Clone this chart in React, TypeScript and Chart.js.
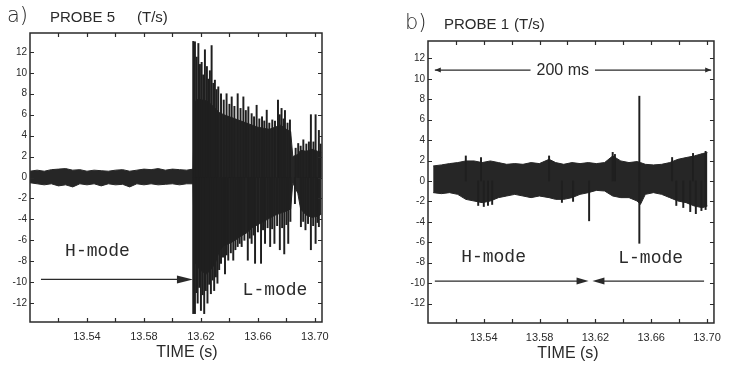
import React, { useEffect, useRef } from 'react';
import { Chart, registerables } from 'chart.js';

Chart.register(...registerables);

// ---------- shared axes ----------
const X_TICKS = [13.52, 13.54, 13.56, 13.58, 13.6, 13.62, 13.64, 13.66, 13.68, 13.7];
const X_LABELS = [13.54, 13.58, 13.62, 13.66, 13.7];
const Y_TICKS = [-12, -10, -8, -6, -4, -2, 0, 2, 4, 6, 8, 10, 12];

// ---------- panel a : PROBE 5 ----------
const A_CORE_T = [
  13.5, 13.505, 13.51, 13.515, 13.52, 13.525, 13.53, 13.535, 13.54, 13.545, 13.55, 13.555,
  13.56, 13.565, 13.57, 13.575, 13.58, 13.585, 13.59, 13.595, 13.6, 13.605, 13.61, 13.6145,
  13.6155, 13.618, 13.621, 13.624, 13.627, 13.63, 13.633, 13.636, 13.64, 13.644, 13.648, 13.652,
  13.656, 13.66, 13.664, 13.668, 13.672, 13.676, 13.68, 13.683,
  13.6845, 13.688, 13.69, 13.694, 13.698, 13.702, 13.7045,
];
const A_CORE_HI = [
  0.6, 0.7, 0.6, 0.75, 0.8, 0.85, 0.7, 0.75, 0.6, 0.7, 0.65, 0.6,
  0.7, 0.75, 0.6, 0.7, 0.8, 0.75, 0.85, 0.7, 0.8, 0.75, 0.7, 0.8,
  7.2, 7.5, 7.4, 7.3, 7.0, 6.6, 6.2, 6.0, 5.8, 5.6, 5.4, 5.2,
  5.0, 4.8, 4.7, 4.6, 4.8, 5.0, 4.6, 4.4,
  2.0, 2.2, 2.6, 2.5, 2.7, 2.5, 2.4,
];
const A_CORE_LO = [
  -0.5, -0.6, -0.7, -0.6, -0.8, -0.7, -0.9, -0.6, -0.7, -0.6, -0.8, -0.6,
  -0.7, -0.65, -0.9, -0.6, -0.7, -0.6, -0.7, -0.65, -0.6, -0.7, -0.6, -0.6,
  -8.0, -8.6, -9.0, -9.2, -8.8, -8.2, -7.0, -6.5, -6.3, -6.0, -5.6, -5.3,
  -4.8, -4.5, -4.2, -3.9, -3.6, -3.4, -3.2, -3.0,
  -0.5, -1.5, -3.0, -3.6, -3.8, -3.7, -3.5,
];
const A_UP_T = [
  13.6146, 13.6158, 13.617, 13.6182, 13.6193, 13.6205, 13.6216, 13.6228, 13.6242, 13.6252,
  13.6263, 13.6275, 13.6287, 13.6298, 13.631, 13.6322, 13.6341, 13.636, 13.638, 13.64,
  13.6416, 13.6435, 13.6458, 13.6478, 13.6498, 13.6515, 13.6533, 13.6556, 13.6573, 13.6591,
  13.661, 13.6629, 13.6645, 13.6662, 13.668, 13.6701, 13.672, 13.6741, 13.6753, 13.6766,
  13.678, 13.679, 13.6808, 13.6825, 13.6865, 13.6883, 13.69, 13.6919, 13.694, 13.6958,
  13.6972, 13.699, 13.7005, 13.7028, 13.704,
];
const A_UP_V = [
  13.0, 12.96, 11.5, 12.8, 10.8, 11.0, 9.8, 12.2, 10.6, 9.4,
  10.2, 12.6, 9.0, 9.3, 8.4, 8.66, 8.0, 7.4, 8.0, 7.0,
  7.7, 6.8, 8.0, 6.6, 7.7, 6.4, 6.75, 6.1, 5.8, 6.9,
  5.6, 5.8, 5.4, 6.43, 5.2, 5.5, 5.4, 7.4, 6.0, 6.6,
  5.6, 6.4, 5.2, 5.5, 2.8, 3.25, 3.0, 3.6, 3.2, 3.4,
  6.0, 3.4, 6.0, 4.5, 3.2,
];
const A_DN_T = [
  13.6146, 13.6158, 13.6168, 13.6177, 13.6188, 13.62, 13.6212, 13.6223, 13.6234, 13.6246,
  13.6258, 13.627, 13.6282, 13.6293, 13.6305, 13.6316, 13.6328, 13.6341, 13.6355, 13.6369,
  13.638, 13.6392, 13.641, 13.6427, 13.6442, 13.6458, 13.6472, 13.6486, 13.6505, 13.6529,
  13.6543, 13.6556, 13.657, 13.658, 13.66, 13.6622, 13.6636, 13.665, 13.6668, 13.6686,
  13.67, 13.6716, 13.6735, 13.6754, 13.677, 13.6785, 13.68, 13.6813, 13.6828, 13.686,
  13.6902, 13.6918, 13.6934, 13.6952, 13.6972, 13.6988, 13.7005, 13.7018, 13.7028,
];
const A_DN_V = [
  -13.0, -13.0, -11.0, -12.0, -10.5, -12.7, -11.2, -13.0, -10.8, -12.0,
  -10.2, -11.1, -9.8, -10.8, -9.5, -10.1, -8.8, -8.2, -7.6, -9.2,
  -7.4, -7.9, -7.2, -7.9, -6.9, -6.6, -6.3, -6.6, -6.0, -7.9,
  -5.8, -6.3, -5.5, -8.2, -5.2, -8.2, -5.0, -6.3, -4.8, -6.6,
  -4.9, -6.3, -4.6, -6.9, -4.8, -7.3, -4.5, -6.3, -4.2, -2.5,
  -4.7, -4.2, -5.0, -4.4, -6.9, -4.6, -6.3, -4.3, -4.7,
];

// ---------- panel b : PROBE 1 ----------
const B_CORE_T = [
  13.5037, 13.5096, 13.5154, 13.5213, 13.5271, 13.533, 13.5388, 13.5447, 13.5505, 13.5564,
  13.5622, 13.5681, 13.5739, 13.5798, 13.5868, 13.5915, 13.5973, 13.6032, 13.609, 13.6149,
  13.6207, 13.6266, 13.6324, 13.6382, 13.6441, 13.6499, 13.6523, 13.6558, 13.6616, 13.6675,
  13.6733, 13.6792, 13.685, 13.6909, 13.6967, 13.7003,
];
const B_CORE_HI = [
  1.47, 1.57, 1.7, 1.8, 1.96, 1.96, 1.8, 1.96, 1.8, 1.63,
  1.7, 1.63, 1.8, 1.7, 2.12, 1.8, 1.63, 1.8, 1.7, 1.8,
  1.7, 1.8, 2.45, 1.96, 1.8, 1.9, 1.8, 1.63, 1.57, 1.63,
  1.8, 2.12, 2.29, 2.45, 2.68, 2.78,
];
const B_CORE_LO = [
  -1.14, -1.24, -1.14, -1.31, -1.8, -1.96, -2.12, -1.96, -1.63, -1.47,
  -1.31, -1.47, -1.63, -1.47, -1.63, -1.8, -1.8, -1.63, -1.31, -1.14,
  -0.92, -0.98, -1.47, -1.63, -1.63, -1.96, -2.29, -1.31, -1.14, -1.31,
  -1.63, -1.96, -2.12, -2.45, -2.61, -2.45,
];
const B_UP_T = [13.5271, 13.538, 13.5868, 13.6324, 13.634, 13.6515, 13.675, 13.69, 13.699];
const B_UP_V = [2.45, 2.3, 2.45, 2.8, 2.6, 8.3, 2.3, 2.7, 2.9];
const B_DN_T = [13.536, 13.54, 13.543, 13.546, 13.596, 13.604, 13.6155, 13.6515, 13.678, 13.683, 13.688, 13.692, 13.696, 13.699];
const B_DN_V = [-2.4, -2.5, -2.4, -2.3, -2.1, -2.0, -3.9, -6.1, -2.4, -2.6, -3.0, -3.2, -2.9, -2.8];

// ---------- styling ----------
const INK = '#2a2a2a';
const BAND = '#262626';
const SPIKE = '#1f1f1f';
const SANS = '"Liberation Sans", Arial, sans-serif';
const MONO = '"Liberation Mono", "DejaVu Sans Mono", monospace';

type Part = { text: string; x: number; y: number; size: number; family?: string; align?: CanvasTextAlign; weight?: string };

const framePlugin = {
  id: 'frame',
  afterDraw(chart: any) {
    const { ctx, chartArea, scales } = chart;
    const { left, right, top, bottom } = chartArea;
    const x = scales.x;
    const y = scales.y;
    ctx.save();
    ctx.strokeStyle = INK;
    ctx.lineWidth = 1.5;
    ctx.strokeRect(left, top, right - left, bottom - top);
    ctx.lineWidth = 1.2;
    ctx.beginPath();
    const tl = 4;
    x.ticks.forEach((t: any) => {
      const px = Math.round(x.getPixelForValue(t.value)) + 0.5;
      ctx.moveTo(px, bottom);
      ctx.lineTo(px, bottom - tl);
      ctx.moveTo(px, top);
      ctx.lineTo(px, top + tl);
    });
    y.ticks.forEach((t: any) => {
      const py = Math.round(y.getPixelForValue(t.value)) + 0.5;
      ctx.moveTo(left, py);
      ctx.lineTo(left + tl, py);
      ctx.moveTo(right, py);
      ctx.lineTo(right - tl, py);
    });
    ctx.stroke();
    ctx.restore();
  },
};

function arrowHead(ctx: CanvasRenderingContext2D, tipX: number, y: number, dir: number, len: number, half: number) {
  ctx.beginPath();
  ctx.moveTo(tipX, y);
  ctx.lineTo(tipX - dir * len, y - half);
  ctx.lineTo(tipX - dir * len, y + half);
  ctx.closePath();
  ctx.fill();
}

const annotPlugin = {
  id: 'annot',
  afterDraw(chart: any, _args: any, opts: any) {
    const { ctx, scales } = chart;
    const x = scales.x;
    const y = scales.y;
    ctx.save();
    ctx.fillStyle = INK;
    ctx.strokeStyle = INK;
    (opts.parts || []).forEach((p: Part) => {
      ctx.font = `${p.weight || '400'} ${p.size}px ${p.family || SANS}`;
      ctx.textAlign = p.align || 'left';
      ctx.textBaseline = 'middle';
      ctx.fillText(p.text, p.x, p.y);
    });
    (opts.labels || []).forEach((l: any) => {
      ctx.font = `400 18px ${MONO}`;
      ctx.textAlign = 'center';
      ctx.textBaseline = 'middle';
      ctx.fillText(l.text, x.getPixelForValue(l.t), y.getPixelForValue(l.v));
    });
    ctx.lineWidth = 1.3;
    (opts.arrows || []).forEach((a: any) => {
      const x1 = x.getPixelForValue(a.from);
      const x2 = x.getPixelForValue(a.to);
      const py = y.getPixelForValue(a.v);
      const dir = x2 > x1 ? 1 : -1;
      ctx.beginPath();
      ctx.moveTo(x1, py);
      ctx.lineTo(x2 - dir * a.head * 0.5, py);
      ctx.stroke();
      arrowHead(ctx, x2, py, dir, a.head, a.half);
    });
    if (opts.span) {
      const s = opts.span;
      const x1 = x.getPixelForValue(s.from);
      const x2 = x.getPixelForValue(s.to);
      const xc = x.getPixelForValue(s.t);
      const py = y.getPixelForValue(s.v);
      ctx.font = `400 16px ${SANS}`;
      const w = ctx.measureText(s.text).width;
      ctx.beginPath();
      ctx.moveTo(x1, py);
      ctx.lineTo(xc - w / 2 - 6, py);
      ctx.moveTo(xc + w / 2 + 6, py);
      ctx.lineTo(x2, py);
      ctx.stroke();
      arrowHead(ctx, x1, py, -1, 6, 2.5);
      arrowHead(ctx, x2, py, 1, 6, 2.5);
      ctx.textAlign = 'center';
      ctx.textBaseline = 'middle';
      ctx.fillText(s.text, xc, py);
    }
    ctx.restore();
  },
};

type Panel = {
  coreT: number[]; hi: number[]; lo: number[];
  upT: number[]; upV: number[]; dnT: number[]; dnV: number[];
  yMin: number; yMax: number;
  padding: { left: number; right: number; top: number; bottom: number };
  xHeight: number;
  annot: any;
};

function buildConfig(p: Panel): any {
  const spikes = [
    ...p.upT.map((t, i) => ({ x: t, y: [0, p.upV[i]] })),
    ...p.dnT.map((t, i) => ({ x: t, y: [p.dnV[i], 0] })),
  ];
  return {
    type: 'bar',
    data: {
      datasets: [
        {
          type: 'line',
          data: p.coreT.map((t, i) => ({ x: t, y: p.hi[i] })),
          borderColor: BAND, backgroundColor: BAND, borderWidth: 1,
          pointRadius: 0, tension: 0, fill: false, order: 2,
        },
        {
          type: 'line',
          data: p.coreT.map((t, i) => ({ x: t, y: p.lo[i] })),
          borderColor: BAND, backgroundColor: BAND, borderWidth: 1,
          pointRadius: 0, tension: 0, fill: '-1', order: 2,
        },
        {
          type: 'bar',
          data: spikes,
          backgroundColor: SPIKE,
          barThickness: 1.3,
          order: 1,
        },
      ],
    },
    options: {
      animation: false,
      responsive: false,
      maintainAspectRatio: false,
      devicePixelRatio: 1,
      layout: { padding: p.padding },
      plugins: {
        legend: { display: false },
        tooltip: { enabled: false },
        annot: p.annot,
      },
      scales: {
        x: {
          type: 'linear',
          min: 13.5,
          max: 13.705,
          offset: false,
          afterBuildTicks: (s: any) => { s.ticks = X_TICKS.map((v) => ({ value: v })); },
          afterFit: (s: any) => { s.height = p.xHeight; },
          grid: { display: false, drawTicks: false, offset: false },
          border: { display: false },
          ticks: {
            autoSkip: false,
            maxRotation: 0,
            padding: 8,
            color: INK,
            font: { size: 11, family: SANS },
            callback: (v: number) => (X_LABELS.some((l) => Math.abs(l - v) < 1e-6) ? v.toFixed(2) : ''),
          },
        },
        y: {
          type: 'linear',
          min: p.yMin,
          max: p.yMax,
          afterBuildTicks: (s: any) => { s.ticks = Y_TICKS.map((v) => ({ value: v })); },
          afterFit: (s: any) => { s.width = 30; },
          grid: { display: false, drawTicks: false },
          border: { display: false },
          ticks: {
            padding: 3,
            color: INK,
            font: { size: 10, family: SANS },
            callback: (v: number) => String(v),
          },
        },
      },
    },
    plugins: [framePlugin, annotPlugin],
  };
}

const PANEL_A: Panel = {
  coreT: A_CORE_T, hi: A_CORE_HI, lo: A_CORE_LO,
  upT: A_UP_T, upV: A_UP_V, dnT: A_DN_T, dnV: A_DN_V,
  yMin: -13.8, yMax: 13.8,
  padding: { left: 0, right: 42, top: 33, bottom: 0 },
  xHeight: 43,
  annot: {
    parts: [
      { text: 'a)', x: 7, y: 17, size: 21, family: '"DejaVu Sans", sans-serif', weight: '300' },
      { text: 'PROBE 5', x: 50, y: 18, size: 15 },
      { text: '(T/s)', x: 137, y: 18, size: 15 },
      { text: 'TIME (s)', x: 187, y: 353, size: 16, align: 'center' },
    ],
    labels: [
      { text: 'H-mode', t: 13.5474, v: -7.0 },
      { text: 'L-mode', t: 13.672, v: -10.8 },
    ],
    arrows: [{ from: 13.5077, to: 13.6144, v: -9.73, head: 16, half: 4 }],
  },
};

const PANEL_B: Panel = {
  coreT: B_CORE_T, hi: B_CORE_HI, lo: B_CORE_LO,
  upT: B_UP_T, upV: B_UP_V, dnT: B_DN_T, dnV: B_DN_V,
  yMin: -13.9, yMax: 13.7,
  padding: { left: 34, right: 10, top: 41, bottom: 0 },
  xHeight: 42,
  annot: {
    parts: [
      { text: 'b)', x: 41, y: 24, size: 21, family: '"DejaVu Sans", sans-serif', weight: '300' },
      { text: 'PROBE 1', x: 80, y: 25, size: 15 },
      { text: '(T/s)', x: 150, y: 25, size: 15 },
      { text: 'TIME (s)', x: 204, y: 354, size: 16, align: 'center' },
    ],
    labels: [
      { text: 'H-mode', t: 13.547, v: -7.5 },
      { text: 'L-mode', t: 13.6596, v: -7.55 },
    ],
    arrows: [
      { from: 13.5049, to: 13.6151, v: -9.8, head: 12, half: 3.5 },
      { from: 13.6979, to: 13.6179, v: -9.8, head: 12, half: 3.5 },
    ],
    span: { from: 13.5049, to: 13.703, t: 13.5966, v: 10.85, text: '200 ms' },
  },
};

function PanelChart({ panel, left, width }: { panel: Panel; left: number; width: number }) {
  const ref = useRef<HTMLCanvasElement | null>(null);
  useEffect(() => {
    if (!ref.current) return;
    const chart = new Chart(ref.current, buildConfig(panel));
    return () => chart.destroy();
  }, [panel]);
  return (
    <canvas
      ref={ref}
      width={width}
      height={365}
      style={{ position: 'absolute', left, top: 0, width, height: 365 }}
    />
  );
}

export default function App() {
  return (
    <div style={{ position: 'absolute', left: 0, top: 0, width: 729, height: 365, background: '#ffffff', overflow: 'hidden' }}>
      <PanelChart panel={PANEL_A} left={0} width={364} />
      <PanelChart panel={PANEL_B} left={364} width={365} />
    </div>
  );
}
